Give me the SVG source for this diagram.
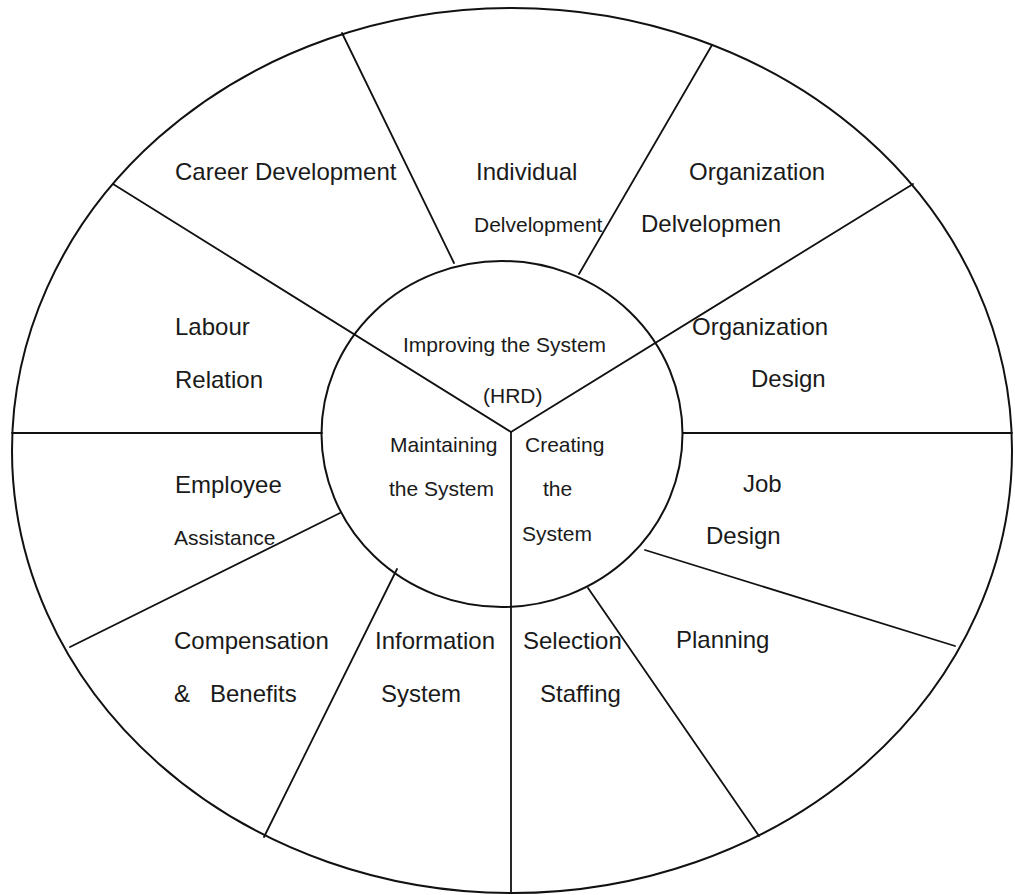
<svg xmlns="http://www.w3.org/2000/svg" width="1015" height="895" viewBox="0 0 1015 895">
  <style>
    .rim { fill: none; stroke: #111; stroke-width: 2; }
    .spoke { stroke: #111; stroke-width: 1.8; fill: none; stroke-linecap: round; }
    text { font-family: "Liberation Sans", Arial, sans-serif; fill: #1a1a1a; }
    .lg { font-size: 24px; }
    .sm { font-size: 21px; }
  </style>
  <rect width="1015" height="895" fill="#fff"/>

  <!-- outer wheel and hub -->
  <g id="wheel">
    <ellipse class="rim" cx="512" cy="450.5" rx="500" ry="442.5"/>
    <ellipse class="rim" cx="502" cy="434" rx="180.5" ry="173"/>
  </g>

  <!-- spokes dividing the sectors -->
  <g id="connectors">
    <line class="spoke" x1="342" y1="33" x2="454" y2="263"/>
    <line class="spoke" x1="712" y1="45" x2="579" y2="274"/>
    <line class="spoke" x1="913" y1="184" x2="511" y2="432"/>
    <line class="spoke" x1="113" y1="184" x2="511" y2="432"/>
    <line class="spoke" x1="12" y1="433" x2="322" y2="433"/>
    <line class="spoke" x1="683" y1="433" x2="1012" y2="433"/>
    <line class="spoke" x1="340" y1="513" x2="70" y2="647"/>
    <line class="spoke" x1="397" y1="569" x2="264" y2="837"/>
    <line class="spoke" x1="511" y1="432" x2="511" y2="893"/>
    <line class="spoke" x1="588" y1="588" x2="759" y2="836"/>
    <line class="spoke" x1="645" y1="550" x2="955" y2="646"/>
  </g>

  <!-- hub sections -->
  <g id="improving">
    <text class="sm" x="403" y="352">Improving the System</text>
    <text class="sm" x="483" y="403">(HRD)</text>
  </g>
  <g id="maintaining">
    <text class="sm" x="390" y="452">Maintaining</text>
    <text class="sm" x="389" y="496">the System</text>
  </g>
  <g id="creating">
    <text class="sm" x="525" y="452">Creating</text>
    <text class="sm" x="543" y="496">the</text>
    <text class="sm" x="522" y="541">System</text>
  </g>

  <!-- outer sectors -->
  <g id="career-development">
    <text class="lg" x="175" y="180">Career Development</text>
  </g>
  <g id="individual-development">
    <text class="lg" x="476" y="180">Individual</text>
    <text class="sm" x="474" y="232">Delvelopment</text>
  </g>
  <g id="organization-development">
    <text class="lg" x="689" y="180">Organization</text>
    <text class="lg" x="641" y="232">Delvelopmen</text>
  </g>
  <g id="organization-design">
    <text class="lg" x="692" y="335">Organization</text>
    <text class="lg" x="751" y="387">Design</text>
  </g>
  <g id="labour-relation">
    <text class="lg" x="175" y="335">Labour</text>
    <text class="lg" x="175" y="388">Relation</text>
  </g>
  <g id="employee-assistance">
    <text class="lg" x="175" y="493">Employee</text>
    <text class="sm" x="174" y="545">Assistance</text>
  </g>
  <g id="job-design">
    <text class="lg" x="743" y="492">Job</text>
    <text class="lg" x="706" y="544">Design</text>
  </g>
  <g id="compensation-benefits">
    <text class="lg" x="174" y="649">Compensation</text>
    <text class="lg" y="702"><tspan x="174">&amp;</tspan> <tspan x="210">Benefits</tspan></text>
  </g>
  <g id="information-system">
    <text class="lg" x="375" y="649">Information</text>
    <text class="lg" x="381" y="702">System</text>
  </g>
  <g id="selection-staffing">
    <text class="lg" x="523" y="649">Selection</text>
    <text class="lg" x="540" y="702">Staffing</text>
  </g>
  <g id="planning">
    <text class="lg" x="676" y="648">Planning</text>
  </g>
</svg>
